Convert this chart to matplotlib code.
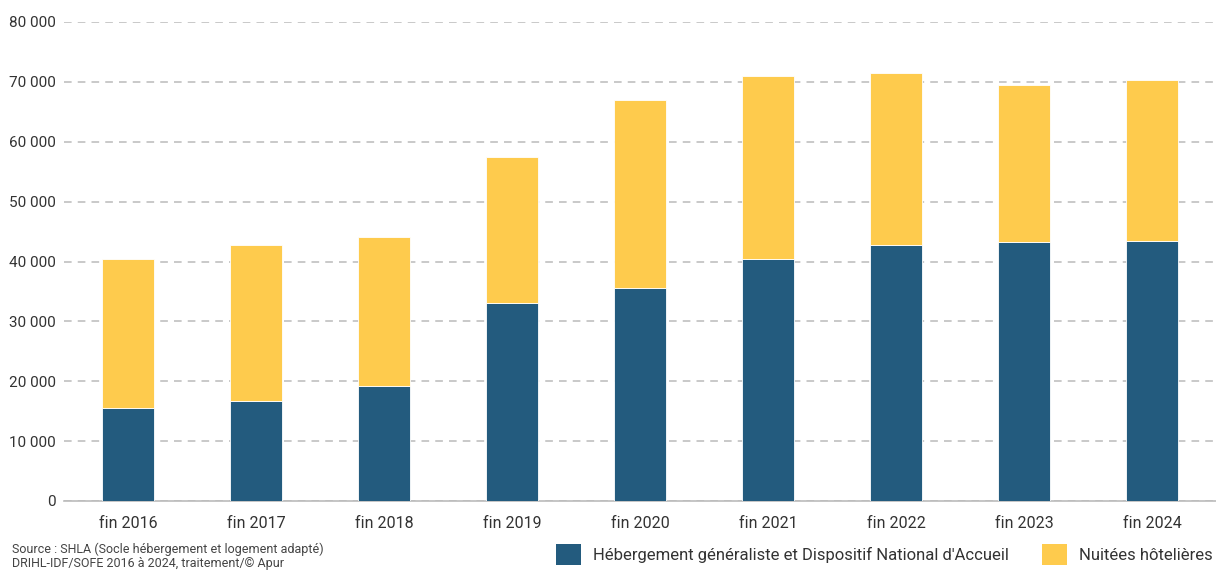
import matplotlib
matplotlib.use("Agg")
import matplotlib.pyplot as plt
from matplotlib.patches import Patch
from matplotlib.ticker import FuncFormatter

years = ["fin 2016", "fin 2017", "fin 2018", "fin 2019", "fin 2020",
         "fin 2021", "fin 2022", "fin 2023", "fin 2024"]
hebergement = [15500, 16650, 19250, 33000, 35550, 40500, 42700, 43300, 43500]
total = [40350, 42750, 44100, 57500, 66950, 70950, 71500, 69550, 70300]
nuitees = [t - h for t, h in zip(total, hebergement)]

BLUE = "#235B7E"
YELLOW = "#FECB4D"
TXT = "#333333"

plt.rcParams["font.family"] = ["Roboto", "DejaVu Sans"]

fig = plt.figure(figsize=(12.16, 5.70), dpi=100)
ax = fig.add_axes([64 / 1216, 1 - 501 / 570, 1 - 64 / 1216, (501 - 22) / 570])

x = range(len(years))
ax.bar(x, hebergement, width=0.4, color=BLUE, edgecolor="white", linewidth=0.6, zorder=3)
ax.bar(x, nuitees, width=0.4, bottom=hebergement, color=YELLOW, edgecolor="white",
       linewidth=0.6, zorder=3)

ax.set_xlim(-0.5, len(years) - 0.5)
ax.set_ylim(0, 80000)
ax.set_yticks(range(0, 80001, 10000))
ax.yaxis.set_major_formatter(FuncFormatter(lambda v, p: f"{int(v):,}".replace(",", " ")))
ax.set_xticks(list(x))
ax.set_xticklabels(years)

ax.grid(axis="y", color="#BBBBBB", linestyle=(0, (5, 4)), linewidth=1.1, zorder=0)
for s in ["top", "right", "left"]:
    ax.spines[s].set_visible(False)
ax.spines["bottom"].set_color("#BBBBBB")
ax.spines["bottom"].set_linewidth(1.2)
ax.tick_params(axis="y", length=0, pad=6, labelsize=11, labelcolor=TXT)
ax.tick_params(axis="x", length=0, pad=11, labelsize=11.5, labelcolor=TXT)

handles = [Patch(facecolor=BLUE, label="Hébergement généraliste et Dispositif National d'Accueil"),
           Patch(facecolor=YELLOW, label="Nuitées hôtelières")]
fig.legend(handles=handles, loc="lower right", bbox_to_anchor=(1.007, -0.012), ncol=2,
           frameon=False, fontsize=12, labelcolor=TXT, handlelength=1.5, handleheight=1.6,
           handletextpad=0.72, columnspacing=2.0, borderpad=0.2)

fig.text(12 / 1216, 1 - 549 / 570, "Source : SHLA (Socle hébergement et logement adapté)",
         fontsize=9, color="#444444", va="center")
fig.text(12 / 1216, 1 - 564 / 570, "DRIHL-IDF/SOFE 2016 à 2024, traitement/© Apur",
         fontsize=9, color="#444444", va="center")

fig.savefig("out.png", dpi=100)
